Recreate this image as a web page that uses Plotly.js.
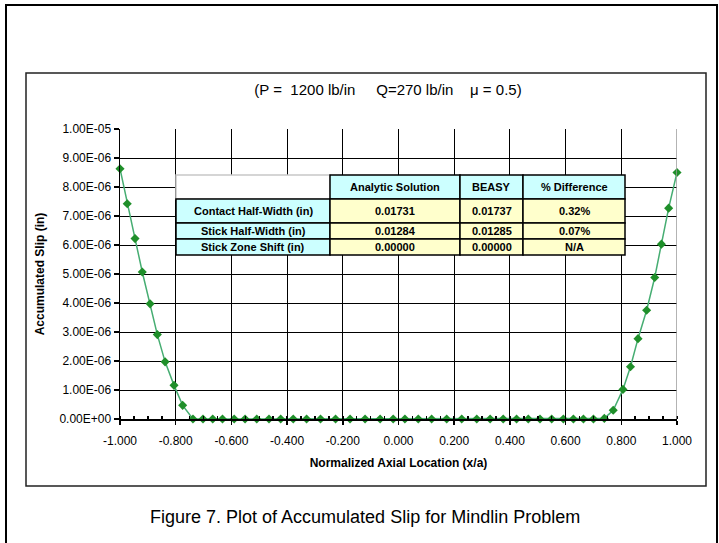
<!DOCTYPE html>
<html>
<head>
<meta charset="utf-8">
<script src="https://cdn.plot.ly/plotly-3.0.1.min.js"></script>
<style>
  html, body { margin: 0; padding: 0; background: #fff; }
  #chart { width: 719px; height: 543px; }
</style>
</head>
<body>
<div id="chart"></div>
<script>
// Normalized axial location (x/a) of each node along the contact
const xLoc = [
  -1.000, -0.974, -0.946, -0.920, -0.892, -0.866, -0.838, -0.806, -0.775, -0.738,
  -0.702, -0.667, -0.632, -0.590, -0.551, -0.509, -0.465, -0.423, -0.378, -0.330,
  -0.280, -0.226, -0.174, -0.120, -0.066, -0.019, 0.023, 0.071, 0.119, 0.173,
  0.227, 0.281, 0.329, 0.376, 0.424, 0.466, 0.508, 0.550, 0.592, 0.628,
  0.664, 0.700, 0.739, 0.771, 0.806, 0.833, 0.860, 0.891, 0.920, 0.944,
  0.970, 1.000
];
// Accumulated slip at each node (in)
const slip = [
  8.63e-6, 7.42e-6, 6.22e-6, 5.07e-6, 3.97e-6, 2.91e-6, 1.97e-6, 1.16e-6, 0.47e-6, 0,
  0, 0, 0, 0, 0, 0, 0, 0, 0, 0,
  0, 0, 0, 0, 0, 0, 0, 0, 0, 0,
  0, 0, 0, 0, 0, 0, 0, 0, 0, 0,
  0, 0, 0.02e-6, 0.30e-6, 1.02e-6, 1.80e-6, 2.77e-6, 3.75e-6, 4.88e-6, 6.03e-6,
  7.27e-6, 8.50e-6
];

// Axis ticks
const xTickVals = [-1.0, -0.8, -0.6, -0.4, -0.2, 0.0, 0.2, 0.4, 0.6, 0.8, 1.0];
const xTickText = ['-1.000', '-0.800', '-0.600', '-0.400', '-0.200', '0.000', '0.200', '0.400', '0.600', '0.800', '1.000'];
const yTickVals = [0, 1e-6, 2e-6, 3e-6, 4e-6, 5e-6, 6e-6, 7e-6, 8e-6, 9e-6, 1e-5];
const yTickText = ['0.00E+00', '1.00E-06', '2.00E-06', '3.00E-06', '4.00E-06', '5.00E-06', '6.00E-06', '7.00E-06', '8.00E-06', '9.00E-06', '1.00E-05'];

// Comparison table
const tableHeader = ['', 'Analytic Solution', 'BEASY', '% Difference'];
const tableRows = ['Contact Half-Width (in)', 'Stick Half-Width (in)', 'Stick Zone Shift (in)'];
const analytic = ['0.01731', '0.01284', '0.00000'];
const beasy = ['0.01737', '0.01285', '0.00000'];
const pctDiff = ['0.32%', '0.07%', 'N/A'];

// Plot area in pixels
const W = 719, H = 543;
const PL = 120, PR = 677, PT = 129, PB = 419;
const fx = p => (p - PL) / (PR - PL);
const fy = p => (PB - p) / (PB - PT);

const FONT = 'Arial, "Liberation Sans", sans-serif';

const shapes = [];
const annotations = [];

// Outer page frame (open at the bottom)
shapes.push({
  type: 'path', xref: 'paper', yref: 'paper', layer: 'above',
  path: `M ${fx(6)} ${fy(560)} L ${fx(6)} ${fy(5)} L ${fx(717)} ${fy(5)} L ${fx(717)} ${fy(560)}`,
  line: { color: '#000', width: 2 }
});
// Chart frame
shapes.push({
  type: 'rect', xref: 'paper', yref: 'paper', layer: 'below',
  x0: fx(26), x1: fx(706), y0: fy(486), y1: fy(73),
  line: { color: '#222', width: 1.5 }
});
// Right edge of the plot area
shapes.push({
  type: 'line', xref: 'x', yref: 'y', layer: 'above',
  x0: 1, x1: 1, y0: 0, y1: 1e-5,
  line: { color: '#9a9a9a', width: 1.5 }
});

// Table geometry
const colEdges = [176, 330, 460, 523, 625];
const rowEdges = [175, 199, 223, 239, 255];
const CYAN = '#CCFFFF', YELLOW = '#FFFFCC';
const cellFont = { family: FONT, size: 11, color: '#000', weight: 'bold' };

function cell(c, r, fill, border, text) {
  shapes.push({
    type: 'rect', xref: 'paper', yref: 'paper', layer: 'above',
    x0: fx(colEdges[c]), x1: fx(colEdges[c + 1]),
    y0: fy(rowEdges[r + 1]), y1: fy(rowEdges[r]),
    fillcolor: fill, line: { color: border, width: 1.5 }
  });
  if (text) {
    annotations.push({
      xref: 'paper', yref: 'paper', showarrow: false,
      x: fx((colEdges[c] + colEdges[c + 1]) / 2),
      y: fy((rowEdges[r] + rowEdges[r + 1]) / 2),
      xanchor: 'center', yanchor: 'middle',
      text: text, font: cellFont
    });
  }
}

tableHeader.forEach((h, c) => {
  if (c === 0) cell(0, 0, '#FFFFFF', '#c8c8c8', '');
  else cell(c, 0, CYAN, '#000', h);
});
tableRows.forEach((label, i) => {
  cell(0, i + 1, CYAN, '#000', label);
  cell(1, i + 1, YELLOW, '#000', analytic[i]);
  cell(2, i + 1, YELLOW, '#000', beasy[i]);
  cell(3, i + 1, YELLOW, '#000', pctDiff[i]);
});

// Figure caption
annotations.push({
  xref: 'paper', yref: 'paper', showarrow: false,
  x: fx(365), y: fy(517), xanchor: 'center', yanchor: 'middle',
  text: 'Figure 7. Plot of Accumulated Slip for Mindlin Problem',
  font: { family: FONT, size: 18, color: '#000' }
});

const trace = {
  x: xLoc, y: slip,
  type: 'scatter', mode: 'lines+markers',
  cliponaxis: false,
  line: { color: '#46ad72', width: 1.5 },
  marker: { symbol: 'diamond', size: 7, color: '#1f8f2a' },
  hoverinfo: 'x+y'
};

const layout = {
  width: W, height: H,
  margin: { l: PL, r: W - PR, t: PT, b: H - PB },
  paper_bgcolor: '#fff', plot_bgcolor: '#fff',
  showlegend: false,
  font: { family: FONT, color: '#000' },
  title: {
    text: '(P =\u00a0 1200 lb/in\u00a0\u00a0\u00a0\u00a0 Q=270 lb/in\u00a0\u00a0\u00a0 \u03bc = 0.5)',
    xref: 'container', yref: 'container',
    x: 388 / W, y: 1 - 90 / H, xanchor: 'center', yanchor: 'middle',
    font: { family: FONT, size: 15, color: '#000' }
  },
  xaxis: {
    range: [-1, 1],
    tickmode: 'array', tickvals: xTickVals, ticktext: xTickText,
    showgrid: true, gridcolor: '#000', gridwidth: 1,
    zeroline: false,
    showline: true, linecolor: '#000', linewidth: 1.5,
    ticks: 'outside', ticklen: 4, tickcolor: '#000', tickwidth: 1.5,
    ticklabelstandoff: 6,
    minor: { tick0: -1, dtick: 0.05, ticks: 'inside', ticklen: 3, tickcolor: '#000', tickwidth: 1.5, showgrid: false },
    tickfont: { family: FONT, size: 12, color: '#000' },
    title: {
      text: 'Normalized Axial Location (x/a)',
      font: { family: FONT, size: 12, color: '#000', weight: 'bold' },
      standoff: 11
    }
  },
  yaxis: {
    range: [0, 1e-5],
    tickmode: 'array', tickvals: yTickVals, ticktext: yTickText,
    showgrid: true, gridcolor: '#000', gridwidth: 1,
    zeroline: false,
    showline: true, linecolor: '#000', linewidth: 1.5,
    ticks: 'outside', ticklen: 5, tickcolor: '#000', tickwidth: 1.5,
    tickfont: { family: FONT, size: 12, color: '#000' },
    title: {
      text: 'Accumulated Slip (in)',
      font: { family: FONT, size: 12, color: '#000', weight: 'bold' },
      standoff: 12
    }
  },
  shapes: shapes,
  annotations: annotations
};

Plotly.newPlot('chart', [trace], layout, { displayModeBar: false, staticPlot: true });
</script>
</body>
</html>
